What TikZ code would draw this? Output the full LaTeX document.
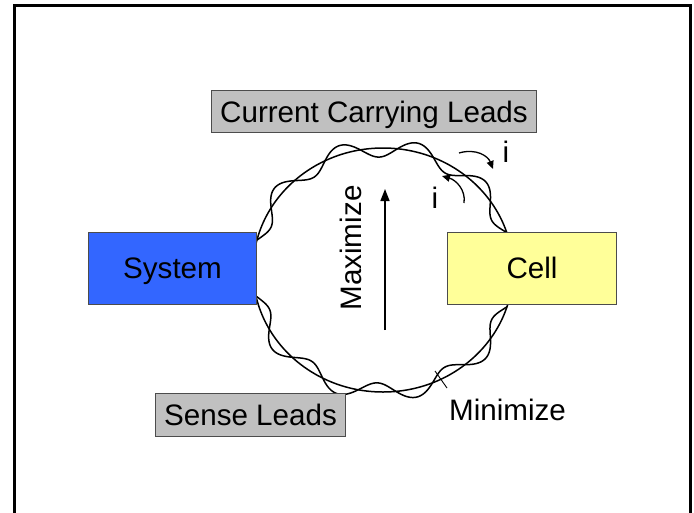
\documentclass[tikz,border=0pt]{standalone}
\usepackage{fontspec}
\setmainfont{Liberation Sans}
\usetikzlibrary{arrows.meta}
\definecolor{sysblue}{HTML}{3366FF}
\definecolor{cellyellow}{HTML}{FFFF99}
\definecolor{leadgray}{HTML}{C0C0C0}
\begin{document}
\begin{tikzpicture}[x=1pt,y=-1pt,
  lbl/.style={font=\fontsize{29.6}{32}\selectfont, inner sep=0pt},
  box/.style={lbl, draw=black!70, line width=0.9pt, minimum height=#1, text height=21.2pt, text depth=0pt},
  wire/.style={line width=1.5pt, black},
  tip/.style={-{Triangle[length=12pt,width=9pt]}},
  smalltip/.style={line width=1.3pt,-{Triangle[length=8pt,width=7pt]}}]
\useasboundingbox (0,0) rectangle (694,512);
\clip (0,0) rectangle (694,512);
\draw[line width=2.7pt] (14.7,5.3) rectangle (690.3,540);
% loop
\draw[wire] (383,270) ellipse [x radius=130pt, y radius=122pt];
\def\nup{10.95}
\def\nlo{10.79}
\draw[wire] plot[domain=165.8:17.8, samples=300, smooth]
  ({383+(130+9*sin(\nup*(\x-165.8)))*cos(\x)}, {270-(122+9*sin(\nup*(\x-165.8)))*sin(\x)});
\draw[wire] plot[domain=192.3:342.5, samples=300, smooth]
  ({383+(130-9*sin(\nlo*(\x-192.3)))*cos(\x)}, {270-(122-9*sin(\nlo*(\x-192.3)))*sin(\x)});
% boxes
\node[box=72pt, fill=sysblue, minimum width=168.4pt] (sys) at (172.5,268.3) {System};
\node[box=72pt, fill=cellyellow, minimum width=168.3pt] (cell) at (532,268) {Cell};
\node[box=42pt, fill=leadgray, minimum width=325pt] (ccl) at (374,111.5) {Current Carrying Leads};
\node[box=43pt, fill=leadgray, minimum width=190pt] (sl) at (250.5,414.5) {Sense Leads};
% maximize
\node[lbl, rotate=90, anchor=base] (max) at (361,248) {Maximize};
\coordinate (mb) at (385,330);
\coordinate (mt) at (385,189);
\draw[line width=1.5pt, tip] (mb) -- (mt);
% minimize
\node[lbl, anchor=base] (min) at (507.5,420) {Minimize};
\coordinate (mp) at (435,371);
\coordinate (ms) at (447,388);
\draw[line width=0.9pt] (ms) -- (mp);
% currents
\node[lbl] (i1) at (506,152) {i};
\node[lbl] (i2) at (435,198) {i};
\coordinate (a1s) at (459,153);
\coordinate (a1e) at (493,169);
\coordinate (a2s) at (464,203);
\coordinate (a2e) at (442,176);
\draw[smalltip] (a1s) .. controls (476,148) and (488,156) .. (a1e);
\draw[smalltip] (a2s) .. controls (466,190) and (456,180) .. (a2e);
\end{tikzpicture}
\end{document}
